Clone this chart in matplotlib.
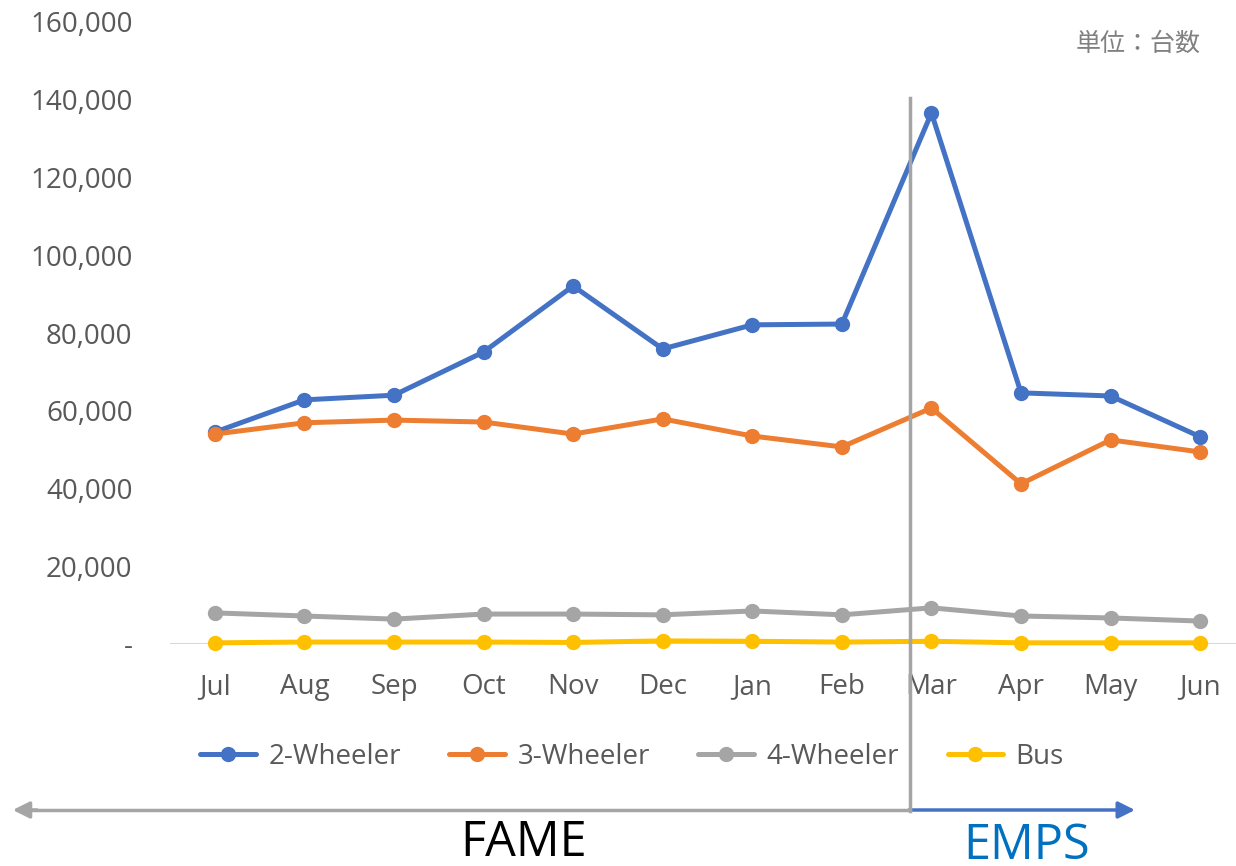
import matplotlib
matplotlib.use("Agg")
import matplotlib.pyplot as plt
from matplotlib.ticker import FuncFormatter
from matplotlib.lines import Line2D

plt.rcParams['font.family'] = ['Open Sans', 'Noto Sans CJK JP', 'DejaVu Sans']

# data (units)
months = ["Jul", "Aug", "Sep", "Oct", "Nov", "Dec", "Jan", "Feb", "Mar", "Apr", "May", "Jun"]
two_wheeler = [54500, 62800, 64000, 75100, 92100, 75900, 82100, 82300, 136600, 64600, 63800, 53300]
three_wheeler = [54000, 56900, 57600, 57100, 54000, 57900, 53500, 50700, 60700, 41200, 52500, 49400]
four_wheeler = [8000, 7200, 6400, 7700, 7700, 7500, 8500, 7500, 9300, 7200, 6700, 5900]
bus = [300, 500, 500, 500, 400, 800, 700, 500, 700, 300, 300, 300]

series = [("2-Wheeler", two_wheeler, "#4472C4"),
          ("3-Wheeler", three_wheeler, "#ED7D31"),
          ("4-Wheeler", four_wheeler, "#A5A5A5"),
          ("Bus", bus, "#FFC000")]

W, H = 1236, 866
fig = plt.figure(figsize=(W / 100, H / 100), dpi=100)

def fx(x):
    return x / W

def fy(y):
    return 1 - y / H

# plot area in pixels: x 170..1245, y 22..644
ax = fig.add_axes([fx(170), fy(644), (1245 - 170) / W, (644 - 22) / H])

xs = list(range(len(months)))
for name, vals, col in series:
    ax.plot(xs, vals, color=col, lw=3.6, marker="o", ms=10, label=name,
            solid_capstyle="round", clip_on=False, zorder=3)

ax.set_xlim(-0.5, 11.5)
ax.set_ylim(0, 160000)
ax.set_yticks(range(0, 160001, 20000))
ax.yaxis.set_major_formatter(FuncFormatter(lambda v, p: "-" if v == 0 else f"{int(v):,}"))
ax.set_xticks(xs)
ax.set_xticklabels(months)
ax.tick_params(axis="both", length=0, labelsize=20, labelcolor="#595959")
ax.tick_params(axis="y", pad=27)
ax.tick_params(axis="x", pad=21)
for s in ax.spines.values():
    s.set_visible(False)
ax.axhline(0, color="#D9D9D9", lw=1.5, zorder=1)

ax.legend(loc="center", bbox_to_anchor=(fx(632), fy(757)), bbox_transform=fig.transFigure,
          ncol=4, frameon=False, fontsize=20, labelcolor="#595959",
          handlelength=2.0, handletextpad=0.45, columnspacing=1.75)

# unit label
fig.text(fx(1201), fy(44), "単位：台数", ha="right", va="center", fontsize=18, color="#808080")

# divider and period arrows
fig.add_artist(Line2D([fx(910), fx(910)], [fy(98), fy(811)], color="#A5A5A5", lw=2.5,
                      transform=fig.transFigure, zorder=10))
fig.add_artist(Line2D([fx(910), fx(30)], [fy(810), fy(810)], color="#A5A5A5", lw=2.5,
                      transform=fig.transFigure))
ax.annotate("", xy=(fx(10), fy(810)), xytext=(fx(40), fy(810)), xycoords="figure fraction",
            arrowprops=dict(arrowstyle="-|>,head_length=1.0,head_width=0.5", color="#A5A5A5", lw=2.5))
ax.annotate("", xy=(fx(1135), fy(810)), xytext=(fx(909), fy(810)), xycoords="figure fraction",
            arrowprops=dict(arrowstyle="-|>,head_length=1.0,head_width=0.5", color="#4472C4", lw=2.5,
                            shrinkA=0, shrinkB=0))

fig.text(fx(524), fy(843), "FAME", ha="center", va="center", fontsize=35, color="black")
fig.text(fx(1027), fy(846), "EMPS", ha="center", va="center", fontsize=35, color="#0070C0")

fig.savefig("out.png", dpi=100)
